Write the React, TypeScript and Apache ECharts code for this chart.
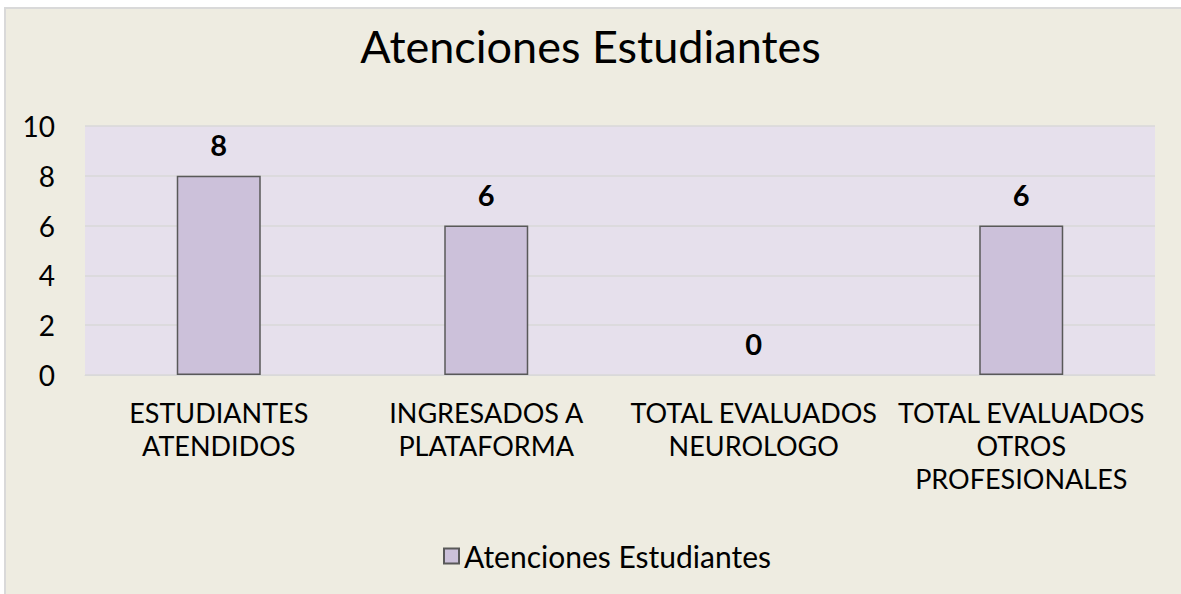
import React, { useEffect, useRef } from "react";
import * as echarts from "echarts";

const categories = [
  "ESTUDIANTES\nATENDIDOS",
  "INGRESADOS A\nPLATAFORMA",
  "TOTAL EVALUADOS\nNEUROLOGO",
  "TOTAL EVALUADOS\nOTROS\nPROFESIONALES",
];
const seriesName = "Atenciones Estudiantes";
const values = [8, 6, 0, 6];
const yTicks = { min: 0, max: 10, interval: 2 };

const FONT = "Lato, 'Open Sans', sans-serif";

export default function App() {
  const ref = useRef<HTMLDivElement>(null);

  useEffect(() => {
    document.body.style.margin = "0";
    const chart = echarts.init(ref.current!, null, { renderer: "svg" });
    chart.setOption({
      animation: false,
      backgroundColor: "#FFFFFF",
      textStyle: { fontFamily: FONT },
      graphic: [
        {
          type: "rect",
          z: -10,
          silent: true,
          shape: { x: 5, y: 8, width: 1190, height: 600 },
          style: { fill: "#EEECE1", stroke: "#D9D9D9", lineWidth: 2 },
        },
        {
          type: "rect",
          z: -9,
          silent: true,
          shape: { x: 85, y: 126, width: 1070, height: 249 },
          style: { fill: "#E6E0EC" },
        },
      ],
      title: {
        text: seriesName,
        left: "center",
        top: 18,
        textStyle: {
          fontFamily: FONT,
          fontSize: 45,
          fontWeight: "normal",
          color: "#000000",
        },
      },
      legend: {
        left: 438,
        top: 536,
        itemWidth: 15,
        itemHeight: 15,
        itemGap: 8,
        icon: "rect",
        textStyle: { fontFamily: FONT, fontSize: 30, color: "#000000" },
        data: [seriesName],
      },
      grid: { left: 85, right: 26, top: 126, bottom: 219 },
      xAxis: {
        type: "category",
        data: categories,
        axisLine: { show: true, lineStyle: { color: "#D9D9D9", width: 1 } },
        axisTick: { show: false },
        axisLabel: {
          interval: 0,
          margin: 21,
          fontFamily: FONT,
          fontSize: 27,
          lineHeight: 33,
          color: "#000000",
          align: "center",
        },
      },
      yAxis: {
        type: "value",
        min: yTicks.min,
        max: yTicks.max,
        interval: yTicks.interval,
        axisLine: { show: false },
        axisTick: { show: false },
        splitLine: { lineStyle: { color: "#D9D9D9", width: 1.5 } },
        axisLabel: {
          margin: 30,
          fontFamily: FONT,
          fontSize: 28,
          color: "#000000",
        },
      },
      series: [
        {
          name: seriesName,
          type: "bar",
          data: values.map((v) =>
            v === 0 ? { value: v, itemStyle: { borderWidth: 0 } } : v
          ),
          barWidth: "31.4%",
          itemStyle: {
            color: "#CCC1DA",
            borderColor: "#595959",
            borderWidth: 1.5,
          },
          label: {
            show: true,
            position: "top",
            distance: 17,
            fontFamily: FONT,
            fontSize: 29,
            fontWeight: "bold",
            color: "#000000",
          },
        },
      ],
    });
    return () => chart.dispose();
  }, []);

  return <div ref={ref} style={{ width: 1181, height: 594 }} />;
}
